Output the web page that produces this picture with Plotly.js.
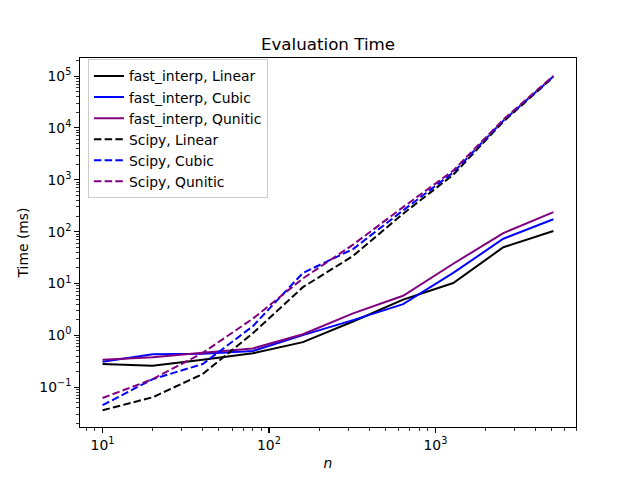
<!DOCTYPE html>
<html>
<head>
<meta charset="utf-8">
<script src="https://cdn.plot.ly/plotly-3.0.1.min.js"></script>
<style>html,body{margin:0;padding:0;background:#fff}#chart{width:640px;height:480px}</style>
</head>
<body>
<div id="chart"></div>
<script>
const n = [10, 20, 40, 80, 160, 320, 640, 1280, 2560, 5120];

const fastLinear  = [0.28, 0.26, 0.34, 0.45, 0.74, 1.85, 4.9, 10.2, 50, 103];
const fastCubic   = [0.31, 0.43, 0.44, 0.50, 1.01, 1.97, 4.0, 16, 73, 173];
const fastQuintic = [0.34, 0.38, 0.46, 0.56, 1.05, 2.65, 5.8, 24, 94, 238];
const scipyLinear  = [0.036, 0.064, 0.18, 1.1, 8.5, 34, 222, 1250, 13200, 96000];
const scipyCubic   = [0.045, 0.143, 0.28, 1.5, 16, 46, 257, 1380, 13800, 98000];
const scipyQuintic = [0.062, 0.143, 0.46, 2.1, 12.5, 56, 297, 1500, 14500, 101000];

const seriesNames = ["fast_interp, Linear", "fast_interp, Cubic", "fast_interp, Qunitic",
                     "Scipy, Linear", "Scipy, Cubic", "Scipy, Qunitic"];
const seriesData = [fastLinear, fastCubic, fastQuintic, scipyLinear, scipyCubic, scipyQuintic];
const colors = ["#000000", "#0000ff", "#800080", "#000000", "#0000ff", "#800080"];
const dashes = ["solid", "solid", "solid", "7.5px,3.2px", "7.5px,3.2px", "7.5px,3.2px"];

const xTickVals = [10, 100, 1000];
const xTickText = ["10<sup>1</sup>", "10<sup>2</sup>", "10<sup>3</sup>"];
const yTickVals = [0.1, 1, 10, 100, 1000, 10000, 100000];
const yTickText = ["10<sup>\u22121</sup>", "10<sup>0</sup>", "10<sup>1</sup>", "10<sup>2</sup>",
                   "10<sup>3</sup>", "10<sup>4</sup>", "10<sup>5</sup>"];

const traces = seriesData.map((ys, i) => ({
  x: n, y: ys, type: "scatter", mode: "lines", name: seriesNames[i],
  line: {color: colors[i], width: 2, dash: dashes[i]}
}));

const font = {family: "DejaVu Sans, sans-serif", size: 13.9, color: "#000"};

const axisCommon = {
  type: "log", showgrid: false, zeroline: false,
  showline: true, linecolor: "#000", linewidth: 1, mirror: true,
  ticks: "outside", ticklen: 4.9, tickwidth: 1.1, tickcolor: "#000",
  tickmode: "array",
  tickfont: font,
  minor: {ticks: "outside", ticklen: 2.8, tickwidth: 0.8, tickcolor: "#000", dtick: "D1", showgrid: false}
};

const layout = {
  width: 640, height: 480,
  margin: {l: 80, r: 64, t: 57.6, b: 52.8},
  paper_bgcolor: "#fff", plot_bgcolor: "#fff",
  font: font,
  showlegend: true,
  title: {text: "Evaluation Time", font: {family: font.family, size: 16.7, color: "#000"},
          x: 0.5, xref: "paper", xanchor: "center", y: 0.908, yref: "container", yanchor: "middle"},
  xaxis: Object.assign({}, axisCommon, {
    range: [0.8645, 3.845],
    tickvals: xTickVals, ticktext: xTickText,
    title: {text: "<i>n</i>", font: font, standoff: 6}
  }),
  yaxis: Object.assign({}, axisCommon, {
    range: [-1.767, 5.348],
    tickvals: yTickVals, ticktext: yTickText,
    title: {text: "Time (ms)", font: font, standoff: 7}
  }),
  legend: {
    x: 0.016, y: 0.996, xanchor: "left", yanchor: "top",
    bgcolor: "rgba(255,255,255,0.8)", bordercolor: "#cccccc", borderwidth: 1,
    font: font, tracegroupgap: 0, itemwidth: 30
  }
};

Plotly.newPlot("chart", traces, layout, {displayModeBar: false, staticPlot: true});
</script>
</body>
</html>
